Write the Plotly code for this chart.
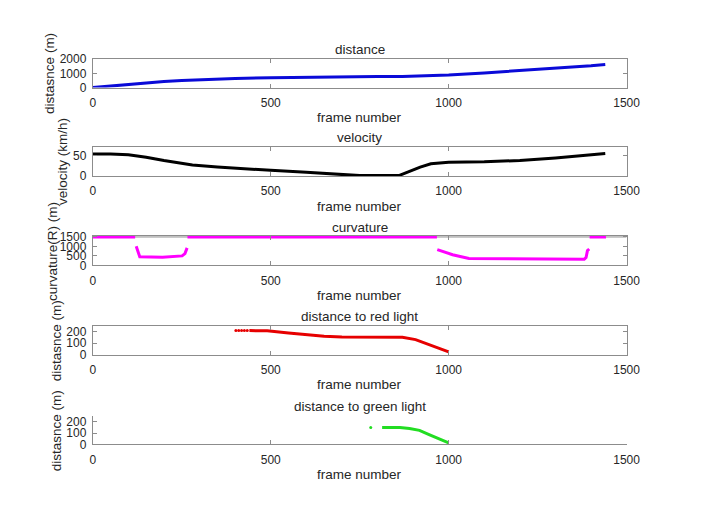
import plotly.graph_objects as go

# ---------------- data ----------------
dist_x = [0, 50, 100, 150, 200, 250, 300, 400, 500, 600, 700, 800, 870, 920, 1000, 1100, 1200, 1300, 1400, 1440]
dist_y = [0, 110, 230, 340, 430, 500, 560, 640, 700, 740, 765, 775, 778, 800, 880, 1030, 1180, 1340, 1530, 1620]

vel_x = [0, 50, 100, 150, 200, 250, 280, 350, 400, 500, 600, 700, 750, 860, 880, 920, 950, 1000, 1100, 1200, 1300, 1400, 1440]
vel_y = [54, 54, 52, 46, 38, 30, 27, 22, 19, 14, 9, 4, 1, 1, 8, 22, 30, 34, 35, 38, 44, 51, 55]

curv_x = [0, 119, None, 122, 132, 196, 251, 259, 265, None, 266, 967, None,
          968, 1011, 1057, 1381, 1386, 1390, 1395, None, 1396, 1442]
curv_y = [1500, 1500, None, 1010, 455, 438, 505, 623, 927, None, 1500, 1500, None,
          833, 567, 367, 333, 417, 783, 867, None, 1500, 1500]

red_dot_x = [402, 410, 418, 426, 434]
red_dot_y = [210, 210, 210, 210, 210]
red_x = [440, 490, 550, 600, 650, 700, 800, 870, 907, 952, 1000]
red_y = [210, 208, 190, 172, 160, 153, 151, 151, 131, 80, 23]

green_dot_x = [781]
green_dot_y = [148]
green_x = [813, 863, 890, 918, 945, 973, 1000]
green_y = [148, 148, 140, 123, 86, 51, 14]

titles = ["distance", "velocity", "curvature", "distance to red light", "distance to green light"]
ylabels = ["distasnce (m)", "velocity (km/h)", "curvature(R) (m)", "distasnce (m)", "distasnce (m)"]
xlabel = "frame number"
x_ticks = [0, 500, 1000, 1500]
y_ticks = [[0, 1000, 2000], [0, 50], [0, 500, 1000, 1500], [0, 100, 200], [0, 100, 200]]
y_ranges = [[0, 2000], [0, 70], [0, 1500], [0, 250], [0, 250]]

# ---------------- layout helpers ----------------
W, H = 706, 530
FONT = "Liberation Sans, Arial, sans-serif"
TXT = "#262626"
AX = "#8c8c8c"
x_left, x_right = 92, 639
tops = [53.5, 144.3, 236.2, 327.7, 420.0]
hgt = 29.3
ylab_x = [47.7, 61.7, 50.0, 54.3, 54.3]


def px(xp):
    return xp / W


def py(yp):
    return 1 - yp / H


fig = go.Figure()

series = [
    [(dist_x, dist_y, "#0a0ad8", "lines")],
    [(vel_x, vel_y, "#000000", "lines")],
    [(curv_x, curv_y, "#ff00ff", "lines")],
    [(red_dot_x, red_dot_y, "#e60000", "markers"), (red_x, red_y, "#e60000", "lines")],
    [(green_dot_x, green_dot_y, "#22dd22", "markers"), (green_x, green_y, "#22dd22", "lines")],
]

annotations = []
for i in range(5):
    n = "" if i == 0 else str(i + 1)
    xa, ya = "x" + n, "y" + n
    for sx, sy, col, mode in series[i]:
        fig.add_trace(go.Scatter(
            x=sx, y=sy, mode=mode, xaxis=xa, yaxis=ya,
            line=dict(color=col, width=3), marker=dict(color=col, size=3),
            connectgaps=False, showlegend=False, hoverinfo="skip", cliponaxis=False))
    top, bot = tops[i], tops[i] + hgt
    r0, r1 = y_ranges[i]
    ext = 60 if i == 2 else 0
    span = r1 - r0
    top_ext = top - hgt * ext / span
    box = i < 4
    fig.update_layout(**{
        ("xaxis" + n): dict(
            domain=[px(x_left), px(x_right)], anchor=ya, range=[0, 1500],
            tickvals=x_ticks, ticks="inside", ticklen=4, tickcolor=AX,
            showline=True, linecolor=AX, linewidth=1,
            mirror="ticks" if box else False, showgrid=False, zeroline=False,
            tickfont=dict(family=FONT, size=12, color=TXT), ticklabelstandoff=4),
        ("yaxis" + n): dict(
            domain=[py(bot), py(top_ext)], anchor=xa, range=[r0, r1 + ext],
            tickvals=y_ticks[i], ticks="inside", ticklen=4, tickcolor=AX,
            showline=True, linecolor=AX, linewidth=1,
            mirror="ticks" if box else False, showgrid=False, zeroline=False,
            tickfont=dict(family=FONT, size=12, color=TXT), ticklabelstandoff=3),
    })
    if i == 2:
        fig.add_shape(type="line", xref="x3", yref="y3", x0=0, x1=1500, y0=1500, y1=1500,
                      line=dict(color=AX, width=1), layer="below")
    cx = (x_left + x_right) / 2
    annotations.append(dict(text=titles[i], x=px(cx), y=py(top - 9.8), xref="paper", yref="paper",
                            showarrow=False, xanchor="center", yanchor="middle",
                            font=dict(family=FONT, size=13.5, color=TXT)))
    annotations.append(dict(text=xlabel, x=px(cx), y=py(bot + 31), xref="paper", yref="paper",
                            showarrow=False, xanchor="center", yanchor="middle",
                            font=dict(family=FONT, size=13.5, color=TXT)))
    annotations.append(dict(text=ylabels[i], x=px(ylab_x[i]), y=py((top + bot) / 2), xref="paper",
                            yref="paper", showarrow=False, xanchor="center", yanchor="middle",
                            textangle=-90, font=dict(family=FONT, size=13.5, color=TXT)))

fig.update_layout(width=W, height=H, margin=dict(l=0, r=0, t=0, b=0),
                  paper_bgcolor="white", plot_bgcolor="white", annotations=annotations)

fig.write_html("out.html", config={"displayModeBar": False},
               post_script="document.body.style.margin='0';document.body.style.padding='0';"
                           "document.documentElement.style.overflow='hidden';")
